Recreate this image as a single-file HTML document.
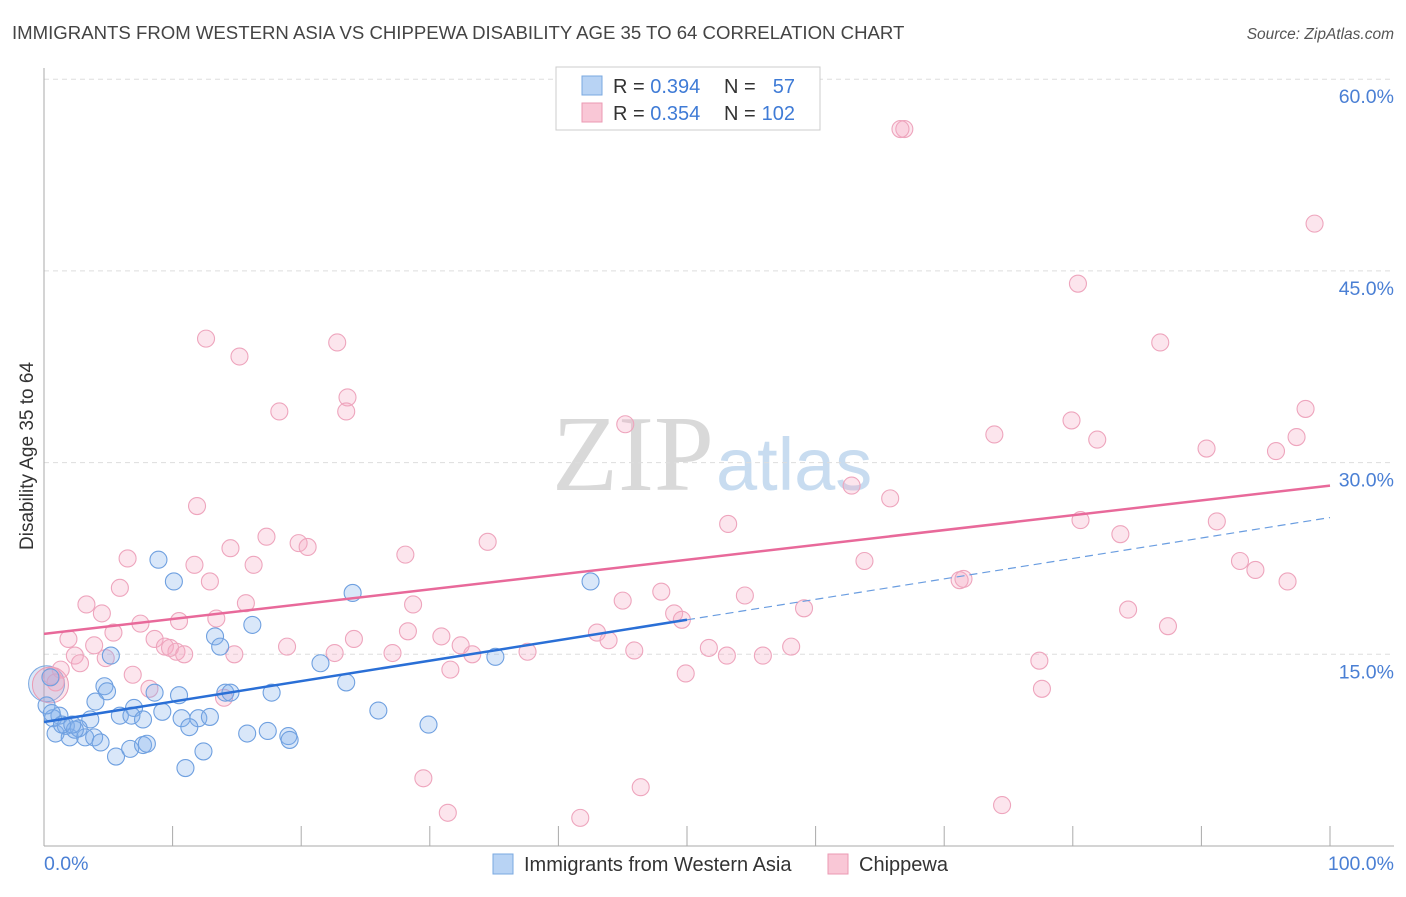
<!DOCTYPE html>
<html><head><meta charset="utf-8"><style>
body{margin:0;background:#fff;font-family:"Liberation Sans",sans-serif;}
</style></head><body>
<svg width="1406" height="892" xmlns="http://www.w3.org/2000/svg">
<text x="12" y="39" font-size="18.6" fill="#444">IMMIGRANTS FROM WESTERN ASIA VS CHIPPEWA DISABILITY AGE 35 TO 64 CORRELATION CHART</text>
<text x="1394" y="39" font-size="15.5" fill="#555" font-style="italic" text-anchor="end">Source: ZipAtlas.com</text>
<text x="714" y="490" font-size="108" fill="#d9d9d9" text-anchor="end" font-family="Liberation Serif,serif">ZIP</text>
<text x="716" y="490" font-size="74" fill="#c8dcf0">atlas</text>
<g id="grid"></g>
<g id="axes"></g>
<g id="pts"></g>
<g id="lines"></g>
<text x="33" y="456" font-size="19" fill="#333" text-anchor="middle" transform="rotate(-90 33 456)">Disability Age 35 to 64</text>
<text x="44" y="870" font-size="19.5" fill="#4a7fd4">0.0%</text>
<text x="1394" y="870" font-size="19.5" fill="#4a7fd4" text-anchor="end">100.0%</text>
<g>
<rect x="556" y="67" width="264" height="63" fill="#fff" stroke="#ccc"/>
<rect x="582" y="76" width="20" height="19" fill="#b8d3f4" stroke="#7aa8e0"/>
<rect x="582" y="103" width="20" height="19" fill="#f9c7d6" stroke="#eb9ab3"/>
<text x="613" y="93" font-size="20" fill="#333">R = <tspan fill="#3f7bd6">0.394</tspan></text>
<text x="724" y="93" font-size="20" fill="#333">N =</text>
<text x="795" y="93" font-size="20" fill="#3f7bd6" text-anchor="end">57</text>
<text x="613" y="120" font-size="20" fill="#333">R = <tspan fill="#3f7bd6">0.354</tspan></text>
<text x="724" y="120" font-size="20" fill="#333">N =</text>
<text x="795" y="120" font-size="20" fill="#3f7bd6" text-anchor="end">102</text>
</g>
<g>
<rect x="493" y="854" width="20" height="20" fill="#b8d3f4" stroke="#7aa8e0"/>
<text x="524" y="871" font-size="20" fill="#333">Immigrants from Western Asia</text>
<rect x="828" y="854" width="20" height="20" fill="#f9c7d6" stroke="#eb9ab3"/>
<text x="859" y="871" font-size="20" fill="#333">Chippewa</text>
</g>
</svg>
<script>
const yTicks=[15,30,45,60];
const xTicks=[0,10,20,30,40,50,60,70,80,90,100];
const blueX=[8.9,10.1,24.0,42.5,16.2,13.3,13.7,5.2,0.5,4.7,4.9,4.0,8.6,10.5,14.1,14.5,17.7,21.5,23.5,7.0,9.2,5.9,6.8,7.7,10.7,12.0,12.9,11.3,3.6,1.2,0.7,0.9,2.0,2.7,3.2,3.9,4.4,5.6,6.7,7.7,8.0,11.0,12.4,15.8,17.4,19.0,19.1,26.0,29.9,35.1,0.2,1.7,2.4,0.6,1.4,2.2];
const blueY=[22.4,20.7,19.8,20.7,17.3,16.4,15.6,14.9,13.2,12.5,12.1,11.3,12.0,11.8,12.0,12.0,12.0,14.3,12.8,10.8,10.5,10.2,10.2,9.9,10.0,10.0,10.1,9.3,9.9,10.2,10.0,8.8,8.5,9.2,8.5,8.5,8.1,7.0,7.6,7.9,8.0,6.1,7.4,8.8,9.0,8.6,8.3,10.6,9.5,14.8,11.0,9.4,9.1,10.4,9.5,9.5];
const pinkX=[66.9,66.6,98.8,80.4,86.8,12.6,15.2,22.8,23.6,18.3,23.5,45.2,79.9,73.9,81.9,98.1,97.4,90.4,95.8,62.8,65.8,11.9,53.2,80.6,91.2,83.7,17.3,34.5,19.8,20.5,14.5,6.5,16.3,11.7,28.1,63.8,93.0,94.2,71.2,71.5,96.7,12.9,5.9,48.0,54.5,45.0,3.3,28.7,15.7,4.5,13.4,10.5,7.5,59.1,49.0,49.6,84.3,87.4,5.4,28.3,1.9,8.6,24.1,30.9,43.0,43.9,3.9,9.4,10.3,18.9,32.4,9.8,10.9,14.8,22.6,27.1,33.3,37.6,45.9,51.7,53.1,55.9,58.1,2.4,4.8,2.8,1.3,31.6,49.9,77.4,6.9,8.2,14.0,77.6,29.5,46.4,31.4,41.7,74.5,0.6,0.9];
const pinkY=[56.1,56.1,48.7,44.0,39.4,39.7,38.3,39.4,35.1,34.0,34.0,33.0,33.3,32.2,31.8,34.2,32.0,31.1,30.9,28.2,27.2,26.6,25.2,25.5,25.4,24.4,24.2,23.8,23.7,23.4,23.3,22.5,22.0,22.0,22.8,22.3,22.3,21.6,20.8,20.9,20.7,20.7,20.2,19.9,19.6,19.2,18.9,18.9,19.0,18.2,17.8,17.6,17.4,18.6,18.2,17.7,18.5,17.2,16.7,16.8,16.2,16.2,16.2,16.4,16.7,16.1,15.7,15.6,15.2,15.6,15.7,15.5,15.0,15.0,15.1,15.1,15.0,15.2,15.3,15.5,14.9,14.9,15.6,14.9,14.7,14.3,13.8,13.8,13.5,14.5,13.4,12.3,11.6,12.3,5.3,4.6,2.6,2.2,3.2,13.3,12.8];
const bigX=[0.2,0.5];
const bigY=[12.7,12.6];
const blueFit=[9.7,25.7];
const pinkFit=[16.6,28.2];
const blueSolidEnd=50;
const NS='http://www.w3.org/2000/svg';
const sx=v=>44+v*12.86;
const sy=v=>846-v*12.78;
function mk(tag,attrs,parent){const e=document.createElementNS(NS,tag);for(const k in attrs)e.setAttribute(k,attrs[k]);parent.appendChild(e);return e;}
const grid=document.getElementById('grid'),axes=document.getElementById('axes'),pts=document.getElementById('pts'),lines=document.getElementById('lines');
yTicks.forEach(t=>{
 const l=mk('line',{x1:44,x2:1394,y1:sy(t),y2:sy(t),stroke:'#ddd','stroke-dasharray':'5,4'},grid);
 
 
 const tx=mk('text',{x:1394,y:sy(t)+24,'font-size':19.5,fill:'#4a7fd4','text-anchor':'end'},grid);
 tx.textContent=t.toFixed(1)+'%';
 
 
});
const ya=mk('line',{x1:44,x2:44,y1:68,y2:846,stroke:'#aaa'},axes);


const xa=mk('line',{x1:44,x2:1394,y1:846,y2:846,stroke:'#aaa'},axes);


xTicks.forEach(t=>{
 const l=mk('line',{x1:sx(t),x2:sx(t),y1:826,y2:846,stroke:'#aaa'},axes);
 
 
});
bigX.forEach((v,i)=>{
 const c=mk('circle',{cx:sx(v),cy:sy(bigY[i]),r:18,fill:i?'rgba(240,150,180,0.25)':'rgba(110,160,225,0.25)',stroke:i?'#eb9ab3':'#7aa8e0'},pts);
 
 
});
pinkX.forEach((v,i)=>{
 const c=mk('circle',{cx:sx(v),cy:sy(pinkY[i]),r:8.5,fill:'rgba(246,170,195,0.3)',stroke:'#eea5bd','stroke-width':1.1},pts);
 
 
});
blueX.forEach((v,i)=>{
 const c=mk('circle',{cx:sx(v),cy:sy(blueY[i]),r:8.5,fill:'rgba(130,175,235,0.3)',stroke:'#6fa0e0','stroke-width':1.1},pts);
 
 
});
const fy=(f,x)=>f[0]+(f[1]-f[0])*x/100;
const pl=mk('line',{x1:sx(0),y1:sy(fy(pinkFit,0)),x2:sx(100),y2:sy(fy(pinkFit,100)),stroke:'#e8699a','stroke-width':2.5},lines);


const bl=mk('line',{x1:sx(0),y1:sy(fy(blueFit,0)),x2:sx(blueSolidEnd),y2:sy(fy(blueFit,blueSolidEnd)),stroke:'#2a6fd6','stroke-width':2.5},lines);


const bd=mk('line',{x1:sx(blueSolidEnd),y1:sy(fy(blueFit,blueSolidEnd)),x2:sx(100),y2:sy(fy(blueFit,100)),stroke:'#6a9de0','stroke-width':1.2,'stroke-dasharray':'8,5'},lines);


</script>
</body></html>
